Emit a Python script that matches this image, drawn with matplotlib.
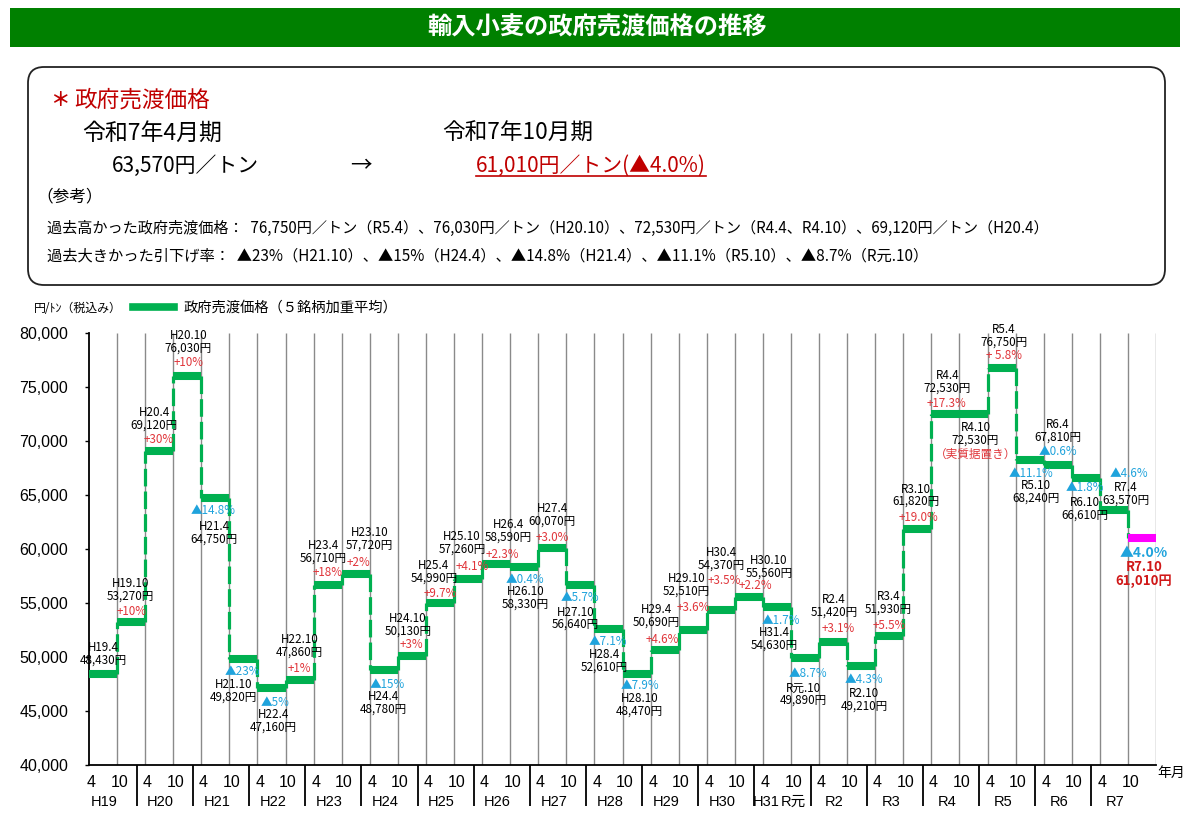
import matplotlib
matplotlib.use("Agg")
import matplotlib.pyplot as plt
from matplotlib.patches import Rectangle, FancyBboxPatch
from matplotlib.lines import Line2D
from matplotlib.transforms import IdentityTransform

plt.rcParams['font.family'] = ['Noto Sans CJK JP', 'DejaVu Sans']

# ---------------- data ----------------
periods = ['H19.4', 'H19.10', 'H20.4', 'H20.10', 'H21.4', 'H21.10', 'H22.4', 'H22.10',
           'H23.4', 'H23.10', 'H24.4', 'H24.10', 'H25.4', 'H25.10', 'H26.4', 'H26.10',
           'H27.4', 'H27.10', 'H28.4', 'H28.10', 'H29.4', 'H29.10', 'H30.4', 'H30.10',
           'H31.4', 'R元.10', 'R2.4', 'R2.10', 'R3.4', 'R3.10', 'R4.4', 'R4.10',
           'R5.4', 'R5.10', 'R6.4', 'R6.10', 'R7.4', 'R7.10']
prices = [48430, 53270, 69120, 76030, 64750, 49820, 47160, 47860,
          56710, 57720, 48780, 50130, 54990, 57260, 58590, 58330,
          60070, 56640, 52610, 48470, 50690, 52510, 54370, 55560,
          54630, 49890, 51420, 49210, 51930, 61820, 72530, 72530,
          76750, 68240, 67810, 66610, 63570, 61010]
changes = ['', '+10%', '+30%', '+10%', '▲14.8%', '▲23%', '▲5%', '+1%',
           '+18%', '+2%', '▲15%', '+3%', '+9.7%', '+4.1%', '+2.3%', '▲0.4%',
           '+3.0%', '▲5.7%', '▲7.1%', '▲7.9%', '+4.6%', '+3.6%', '+3.5%', '+2.2%',
           '▲1.7%', '▲8.7%', '+3.1%', '▲4.3%', '+5.5%', '+19.0%', '+17.3%', '（実質据置き）',
           '+ 5.8%', '▲11.1%', '▲0.6%', '▲1.8%', '▲4.6%', '▲4.0%']
month_labels = ['4', '10']
year_labels = ['H19', 'H20', 'H21', 'H22', 'H23', 'H24', 'H25', 'H26', 'H27', 'H28',
               'H29', 'H30', 'H31', 'R2', 'R3', 'R4', 'R5', 'R6', 'R7']
y_ticks = [40000, 45000, 50000, 55000, 60000, 65000, 70000, 75000, 80000]

# ---------------- layout (pixel offsets of labels) ----------------
block_off = [(0, -20), (-1, -32), (-5, -32), (1, -34), (-1, 35), (-10, 32), (2, 33), (0, -34),
             (-4, -33), (14, -35), (0, 33), (-4, -31), (-6, -31), (-6, -36), (12, -33), (1, 31),
             (0, -33), (-5, 33), (-4, 32), (3, 31), (-8, -34), (-6, -45), (1, -51), (20, -30),
             (-3, 32), (-2, 36), (1, -36), (3, 34), (-1, -33), (-1, -34), (2, -32), (2, 20),
             (2, -32), (6, 32), (0, -34), (-1, 31), (12, -17), (2, 36)]
pct_off = [None, (0, -10), (-1, -11), (1, -13), (-2, 13), (-1, 13), (4, 15), (0, -12),
           (0, -12), (3, -11), (3, 14), (0, -11), (0, -10), (4, -12), (6, -10), (1, 12),
           (0, -11), (0, 12), (-1, 13), (3, 12), (-2, -10), (1, -22), (4, -29), (7, -11),
           (4, 14), (3, 15), (5, -13), (3, 14), (0, -11), (1, -12), (1, -10), (2, 41),
           (2, -13), (1, 13), (0, -13), (-1, 10), (15, -37), (2, 15)]

GREEN = '#00B050'
MAGENTA = '#FF00FF'
RED = '#E0353A'
BLUE = '#1FA3DC'
DARKRED = '#C00000'

W, H = 1200, 822
fig = plt.figure(figsize=(W / 100, H / 100), dpi=100)
fig.patch.set_facecolor('white')


def fx(x):
    return x / W


def fy(y):
    return 1 - y / H


# ---------------- header ----------------
fig.patches.append(Rectangle((fx(10), fy(47)), fx(1170), 39 / H, transform=fig.transFigure,
                             facecolor='#008000', edgecolor='none'))
fig.text(fx(597), fy(28), '輸入小麦の政府売渡価格の推移', color='white', fontsize=17.5,
         fontweight='bold', ha='center', va='center')

box = FancyBboxPatch((28, H - 285), 1137, 218, boxstyle='round,pad=0,rounding_size=16',
                     transform=IdentityTransform(), facecolor='white', edgecolor='#222222',
                     linewidth=1.3)
fig.patches.append(box)

fig.text(fx(50), fy(100), '＊', color=DARKRED, fontsize=14, va='center', ha='left',
         fontweight='bold')
fig.text(fx(74), fy(100), '政府売渡価格', color=DARKRED, fontsize=16.3, va='center', ha='left')
fig.text(fx(82), fy(133), '令和7年4月期', color='black', fontsize=16.5, va='center', ha='left')
fig.text(fx(112), fy(166), '63,570円／トン', color='black', fontsize=15, va='center', ha='left')
fig.text(fx(361), fy(166), '→', color='black', fontsize=15.5, va='center', ha='center')
fig.text(fx(442), fy(133), '令和7年10月期', color='black', fontsize=16.3, va='center', ha='left')
red_txt = fig.text(fx(476), fy(166), '61,010円／トン(▲4.0%)', color=DARKRED, fontsize=15,
                   va='center', ha='left')
fig.text(fx(36), fy(197), '（参考）', color='black', fontsize=12, va='center', ha='left')
fig.text(fx(47), fy(228), '過去高かった政府売渡価格：  76,750円／トン（R5.4）、76,030円／トン（H20.10）、'
         '72,530円／トン（R4.4、R4.10）、69,120円／トン（H20.4）', color='black', fontsize=10.9,
         va='center', ha='left')
fig.text(fx(47), fy(256), '過去大きかった引下げ率：  ▲23%（H21.10）、▲15%（H24.4）、▲14.8%（H21.4）、'
         '▲11.1%（R5.10）、▲8.7%（R元.10）', color='black', fontsize=11.0, va='center', ha='left')

# ---------------- chart ----------------
L, R, T, B = 89, 1156, 333, 765
ax = fig.add_axes([fx(L), fy(B), (R - L) / W, (B - T) / H])
n = len(prices)
ax.set_xlim(0, n)
ax.set_ylim(y_ticks[0], y_ticks[-1])

idx = list(range(n))
# vertical gridlines at each period boundary
ax.vlines(idx[1:] + [n], y_ticks[0], y_ticks[-1], colors='#8a8a8a', linewidth=1.0, zorder=1)

# dashed connectors
ax.vlines(idx[1:], prices[:-1], prices[1:], colors=GREEN, linewidth=2.3,
          linestyles=(0, (5.5, 1.6)), zorder=2)
# horizontal steps
ax.hlines(prices[:-1], idx[:-1], [i + 1 for i in idx[:-1]], colors=GREEN, linewidth=5.8,
          zorder=3, capstyle='butt')
ax.hlines(prices[-1:], idx[-1:], [n], colors=MAGENTA, linewidth=5.8, zorder=3, capstyle='butt')

for sp in ['top', 'right']:
    ax.spines[sp].set_visible(False)
for sp in ['left', 'bottom']:
    ax.spines[sp].set_color('black')
    ax.spines[sp].set_linewidth(1.3)

ax.set_yticks(y_ticks)
ax.set_yticklabels([f'{v:,}' for v in y_ticks], fontfamily=['Liberation Sans', 'DejaVu Sans'],
                   fontsize=11.5)
ax.tick_params(axis='y', length=3, width=1, pad=12)

# x labels (months)
ax.set_xticks([i + 0.08 for i in idx])
ax.set_xticklabels([month_labels[i % 2] for i in idx], fontfamily=['Liberation Sans', 'DejaVu Sans'],
                   fontsize=11.5)
ax.tick_params(axis='x', length=0, pad=7)

xt = ax.get_xaxis_transform()
# year labels
yfont = ['Liberation Sans', 'Noto Sans CJK JP']
for k, yl in enumerate(year_labels):
    if yl == 'H31':
        ax.annotate('H31', xy=(2 * k + 0.1, 0), xycoords=xt, xytext=(0, -37),
                    textcoords='offset pixels', ha='center', va='center', fontsize=10.5,
                    fontfamily=yfont)
        ax.annotate('R元', xy=(2 * k + 1.1, 0), xycoords=xt, xytext=(0, -37),
                    textcoords='offset pixels', ha='center', va='center', fontsize=10.5,
                    fontfamily=yfont)
    else:
        ax.annotate(yl, xy=(2 * k + 0.55, 0), xycoords=xt, xytext=(0, -37),
                    textcoords='offset pixels', ha='center', va='center', fontsize=10.5,
                    fontfamily=yfont)
# year separators
sep_x = [2 * k + 1.7 for k in range(len(year_labels) - 1)]
ax.vlines(sep_x, 0, -41 / (B - T), transform=xt, colors='black', linewidth=1.3, clip_on=False)
ax.annotate('年月', xy=(n, 0), xycoords=xt, xytext=(15, -8), textcoords='offset pixels',
            ha='center', va='center', fontsize=10)

# legend
fig.text(fx(34), fy(308), '円/ﾄﾝ（税込み）', fontsize=8.6, va='center', ha='left')
leg = fig.legend(handles=[Line2D([], [], color=GREEN, linewidth=5.5)],
                 labels=['政府売渡価格（５銘柄加重平均）'], loc='center left',
                 bbox_to_anchor=(fx(133), fy(308)), frameon=False, fontsize=10.3,
                 handlelength=2.9, handletextpad=0.6, borderpad=0, borderaxespad=0)

# data labels
for i in idx:
    xc = i + 0.5
    v = prices[i]
    last = (i == n - 1)
    bdx, bdy = block_off[i]
    ax.annotate(f'{periods[i]}\n{v:,}円', xy=(xc, v), xytext=(bdx, -bdy),
                textcoords='offset pixels', ha='center', va='center',
                fontsize=9.5 if last else 8.4, linespacing=0.95,
                color='#D01818' if last else 'black',
                fontweight='bold' if last else 'normal', zorder=5)
    if pct_off[i] is not None and changes[i]:
        pdx, pdy = pct_off[i]
        c = changes[i]
        col = BLUE if c.startswith('▲') else RED
        ax.annotate(c, xy=(xc, v), xytext=(pdx, -pdy), textcoords='offset pixels',
                    ha='center', va='center', fontsize=10 if last else 8.4, color=col,
                    fontweight='bold' if last else 'normal', zorder=5)

# underline for the red new price
fig.canvas.draw()
bb = red_txt.get_window_extent()
fig.lines.append(Line2D([bb.x0, bb.x1], [bb.y0 + 1, bb.y0 + 1], transform=IdentityTransform(),
                        color=DARKRED, linewidth=1.2))

fig.savefig('out.png', dpi=100)
